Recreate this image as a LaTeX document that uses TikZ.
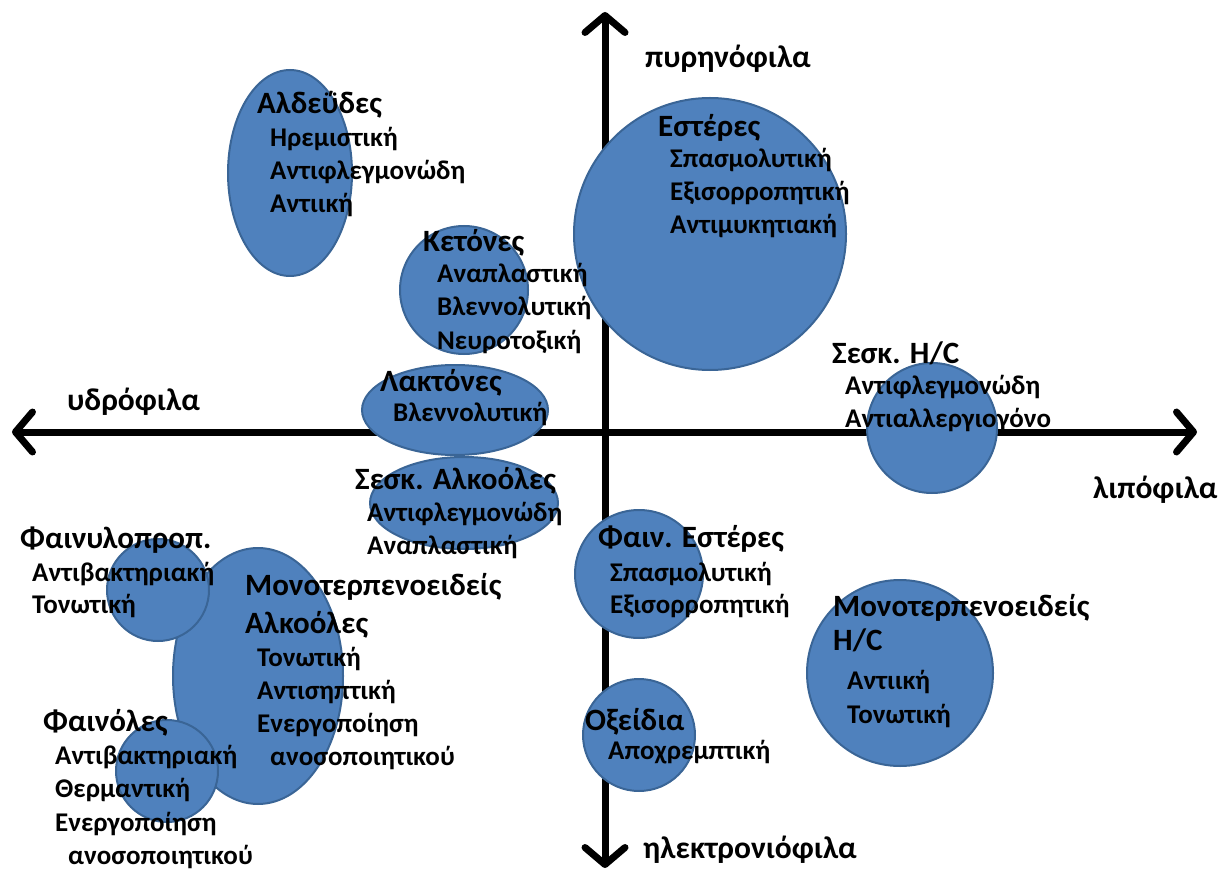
\documentclass[tikz,border=0pt]{standalone}
\usepackage{fontspec}
\setmainfont{Carlito}
\usetikzlibrary{arrows.meta}
\definecolor{blobfill}{HTML}{4F81BD}
\definecolor{blobline}{HTML}{3A6596}
\tikzset{
  blob/.style={fill=blobfill,draw=blobline,line width=2pt},
  axisline/.style={line width=7pt,-{Straight Barb[length=17pt,width=40pt,round]}},
  ttl/.style={anchor=base west,inner sep=0pt,font=\fontsize{31}{36}\selectfont\bfseries},
  axl/.style={anchor=base west,inner sep=0pt,font=\fontsize{31.5}{36}\selectfont\bfseries},
  sub/.style={anchor=base west,inner sep=0pt,font=\fontsize{27}{30}\selectfont\bfseries},
}
\begin{document}
\begin{tikzpicture}[x=1pt,y=-1pt]
\useasboundingbox (0,0) rectangle (1220,874);
% axes
\coordinate (hl) at (12,432);
\coordinate (hr) at (1197,432);
\coordinate (vt) at (605,12);
\coordinate (vb) at (605,868);
\coordinate (hc) at (605,432);
\draw[axisline] (hc) -- (hl);
\draw[axisline] (hc) -- (hr);
\draw[axisline] (hc) -- (vt);
\draw[axisline] (hc) -- (vb);
% shapes
\draw[blob] (290,173) ellipse [x radius=62,y radius=103];
\draw[blob] (464,290) circle [radius=64];
\draw[blob] (455,410) ellipse [x radius=93,y radius=45];
\draw[blob] (464,503) ellipse [x radius=94,y radius=46];
\draw[blob] (710,234) circle [radius=136];
\draw[blob] (932,428) circle [radius=65];
\draw[blob] (639,574) circle [radius=64];
\draw[blob] (639,735) circle [radius=56];
\draw[blob] (900,673) circle [radius=93];
\draw[blob] (258,676) ellipse [x radius=85,y radius=128];
\draw[blob] (158,590) circle [radius=51];
\draw[blob] (167,771) circle [radius=51];
% axis labels
\node[axl] (ax1) at (645,68) {πυρηνόφιλα};
\node[axl] (ax2) at (67,410) {υδρόφιλα};
\node[axl] (ax3) at (1093,498) {λιπόφιλα};
\node[axl] (ax4) at (643,858) {ηλεκτρονιόφιλα};
% Aldehydes
\node[ttl] (a0) at (257,114) {Αλδεΰδες};
\node[sub] (a1) at (270,147) {Ηρεμιστική};
\node[sub] (a2) at (270,180) {Αντιφλεγμονώδη};
\node[sub] (a3) at (270,213) {Αντιική};
% Ketones
\node[ttl] (k0) at (423,252) {Κετόνες};
\node[sub] (k1) at (437,283) {Αναπλαστική};
\node[sub] (k2) at (437,316) {Βλεννολυτική};
\node[sub] (k3) at (437,349) {Νευροτοξική};
% Lactones
\node[ttl] (l0) at (380,391) {Λακτόνες};
\node[sub] (l1) at (393,421) {Βλεννολυτική};
% Sesq alcohols
\node[ttl] (sa0) at (355,489) {Σεσκ. Αλκοόλες};
\node[sub] (sa1) at (367,521) {Αντιφλεγμονώδη};
\node[sub] (sa2) at (367,554) {Αναπλαστική};
% Esters
\node[ttl] (e0) at (658,137) {Εστέρες};
\node[sub] (e1) at (670,168) {Σπασμολυτική};
\node[sub] (e2) at (670,201) {Εξισορροπητική};
\node[sub] (e3) at (670,234) {Αντιμυκητιακή};
% Sesq H/C
\node[ttl] (sh0) at (832,363) {Σεσκ. Η/C};
\node[sub] (sh1) at (845,394) {Αντιφλεγμονώδη};
\node[sub] (sh2) at (845,427) {Αντιαλλεργιογόνο};
% Phenylpropanoids
\node[ttl] (fp0) at (20,548) {Φαινυλοπροπ.};
\node[sub] (fp1) at (32,581) {Αντιβακτηριακή};
\node[sub] (fp2) at (32,613) {Τονωτική};
% Monoterpene alcohols
\node[ttl] (ma0) at (245,595) {Μονοτερπενοειδείς};
\node[ttl] (ma1) at (245,633) {Αλκοόλες};
\node[sub] (ma2) at (257,666) {Τονωτική};
\node[sub] (ma3) at (257,699) {Αντισηπτική};
\node[sub] (ma4) at (257,732) {Ενεργοποίηση};
\node[sub] (ma5) at (270,765) {ανοσοποιητικού};
% Phenols
\node[ttl] (ph0) at (43,731) {Φαινόλες};
\node[sub] (ph1) at (55,764) {Αντιβακτηριακή};
\node[sub] (ph2) at (55,797) {Θερμαντική};
\node[sub] (ph3) at (55,831) {Ενεργοποίηση};
\node[sub] (ph4) at (68,864) {ανοσοποιητικού};
% Phenyl esters
\node[ttl] (fe0) at (598,547) {Φαιν. Εστέρες};
\node[sub] (fe1) at (610,581) {Σπασμολυτική};
\node[sub] (fe2) at (610,613) {Εξισορροπητική};
% Monoterpene H/C
\node[ttl] (mh0) at (833,616) {Μονοτερπενοειδείς};
\node[ttl] (mh1) at (833,650) {Η/C};
\node[sub] (mh2) at (847,689) {Αντιική};
\node[sub] (mh3) at (847,723) {Τονωτική};
% Oxides
\node[ttl] (ox0) at (585,730) {Οξείδια};
\node[sub] (ox1) at (608,759) {Αποχρεμπτική};
\end{tikzpicture}
\end{document}
